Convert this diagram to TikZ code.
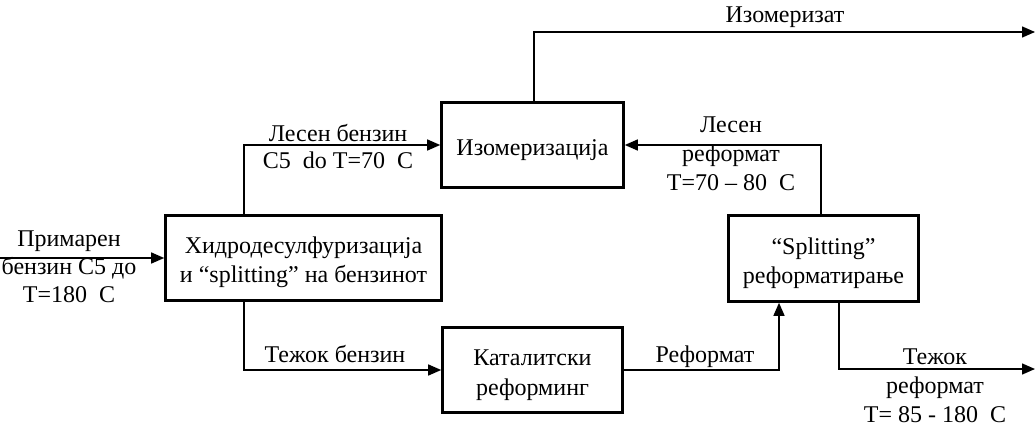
\documentclass[tikz,border=0pt]{standalone}
\usepackage{fontspec}
\setmainfont{Liberation Serif}
\usetikzlibrary{arrows.meta,calc}
\newcommand\bxup{\rule{0pt}{26pt}}
\begin{document}
\begin{tikzpicture}[x=1pt,y=-1pt,
  box/.style={draw,line width=2.6pt,align=center,inner sep=0pt,
    font=\fontsize{24}{29}\selectfont},
  arr/.style={line width=1.4pt,-{Triangle[length=13pt,width=11pt]}},
  lbl/.style={align=center,inner sep=0pt,font=\fontsize{24}{28}\selectfont}]
\useasboundingbox (0,0) rectangle (1035,428);
\node[box,minimum width=276pt,minimum height=85pt] (hyd) at (303.5,258) {\bxup Хидродесулфуризација\\и “splitting” на бензинот};
\node[box,minimum width=182pt,minimum height=85pt] (izo) at (532.5,145) {\bxup Изомеризација};
\node[box,minimum width=180pt,minimum height=85pt,font=\fontsize{24}{30}\selectfont] (kat) at (532.5,370) {\bxup Каталитски\\реформинг};
\node[box,minimum width=190pt,minimum height=86pt] (spl) at (823.5,258.5) {\bxup “Splitting”\\реформатирање};
\coordinate (in) at (0,258);
\coordinate (out1) at (1035,32);
\coordinate (out2) at (1035,369);
\draw[arr] (in) -- (hyd.west);
\draw[arr] ([xshift=-59.5pt]hyd.north) |- (izo.west);
\draw[arr] ([xshift=-59.5pt]hyd.south) |- (kat.west);
\draw[arr] (kat.east) -| ([xshift=-44.5pt]spl.south);
\draw[arr] ([xshift=-2.5pt]spl.north) |- (izo.east);
\draw[arr] ([xshift=15.5pt]spl.south) |- (out2);
\draw[arr] ([xshift=1.5pt]izo.north) |- (out1);
\node[lbl,anchor=base] (l1) at (785,23) {Изомеризат};
\node[lbl,font=\fontsize{24}{27}\selectfont] (l2) at (338,147) {Лесен бензин\\C5\ \ do T=70\ \ C};
\node[lbl,font=\fontsize{24}{29}\selectfont] (l3) at (731,154) {Лесен\\реформат\\T=70 – 80\ \ C};
\node[lbl] (l4) at (69,267) {Примарен\\бензин C5 до\\T=180\ \ C};
\node[lbl,anchor=base] (l5) at (335,362) {Тежок бензин};
\node[lbl,anchor=base] (l6) at (705,362) {Реформат};
\node[lbl,font=\fontsize{24}{29}\selectfont] (l7) at (935,386) {Тежок\\реформат\\T= 85 - 180\ \ C};
\end{tikzpicture}
\end{document}
